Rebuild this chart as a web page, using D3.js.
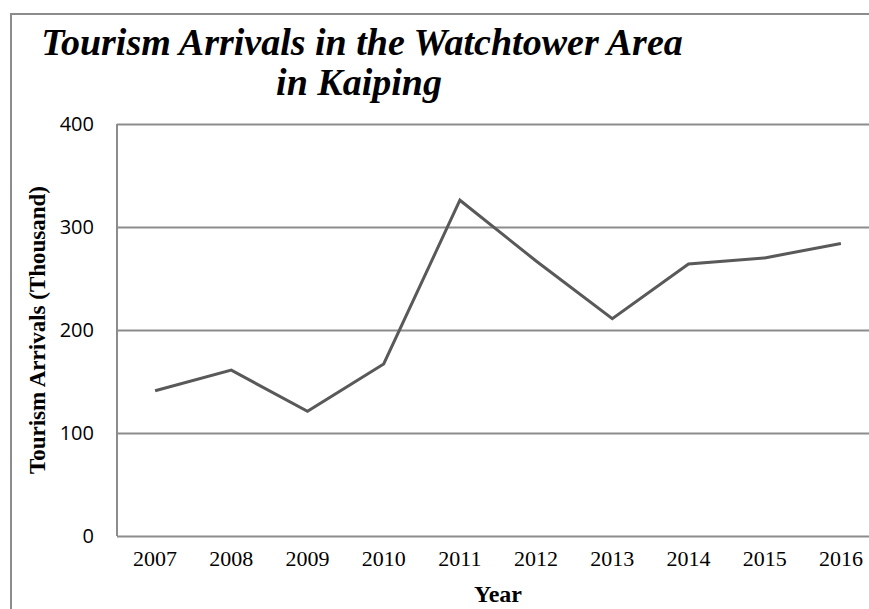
<!DOCTYPE html>
<html>
<head>
<meta charset="utf-8">
<script src="https://cdn.jsdelivr.net/npm/d3@7"></script>
<style>
  body { margin: 0; background: #fff; }
  svg { display: block; }
</style>
</head>
<body>
<div id="chart"></div>
<script>
const years = ["2007", "2008", "2009", "2010", "2011", "2012", "2013", "2014", "2015", "2016"];
const arrivals = [141, 161, 121, 167, 326, 267, 211, 264, 270, 284];
const yTicks = [0, 100, 200, 300, 400];
const titleLines = ["Tourism Arrivals in the Watchtower Area", "in Kaiping"];

const w = 869, h = 609;
const plotLeft = 117, plotRight = 879, plotTop = 124, plotBottom = 536;

const svg = d3.select("#chart").append("svg")
  .attr("width", w)
  .attr("height", h);

// outer frame
svg.append("rect")
  .attr("x", 11).attr("y", 14)
  .attr("width", 900).attr("height", 700)
  .attr("fill", "none")
  .attr("stroke", "#8c8c8c")
  .attr("stroke-width", 2);

const x = d3.scaleBand().domain(years).range([plotLeft, plotRight]);
const y = d3.scaleLinear().domain([0, 400]).range([plotBottom, plotTop]);

// gridlines
const yAxis = d3.axisLeft(y).tickValues(yTicks).tickSize(-(plotRight - plotLeft)).tickPadding(23);
const gy = svg.append("g")
  .attr("transform", "translate(" + plotLeft + ",0)")
  .call(yAxis);
gy.select(".domain").remove();
gy.selectAll(".tick line").attr("stroke", "#8c8c8c").attr("stroke-width", 2);
gy.selectAll(".tick text")
  .attr("font-family", "'Open Sans', sans-serif")
  .attr("font-size", 20)
  .attr("fill", "#000");

// left axis line
svg.append("line")
  .attr("x1", plotLeft).attr("x2", plotLeft)
  .attr("y1", plotTop).attr("y2", plotBottom)
  .attr("stroke", "#8c8c8c").attr("stroke-width", 2);

const xAxis = d3.axisBottom(x).tickSize(0).tickPadding(14);
const gx = svg.append("g")
  .attr("transform", "translate(0," + plotBottom + ")")
  .call(xAxis);
gx.select(".domain").remove();
gx.selectAll(".tick text")
  .attr("font-family", "'Liberation Serif', 'Times New Roman', serif")
  .attr("font-size", 22)
  .attr("fill", "#000");

// data line
const line = d3.line()
  .x((d, i) => x(years[i]) + x.bandwidth() / 2)
  .y(d => y(d));
svg.append("path")
  .datum(arrivals)
  .attr("d", line)
  .attr("fill", "none")
  .attr("stroke", "#595959")
  .attr("stroke-width", 3);

// title
const title = svg.append("text")
  .attr("text-anchor", "middle")
  .attr("font-family", "'Liberation Serif', 'Times New Roman', serif")
  .attr("font-weight", "bold")
  .attr("font-style", "italic")
  .attr("font-size", 38)
  .attr("fill", "#000");
title.append("tspan").attr("x", 362).attr("y", 55).text(titleLines[0]);
title.append("tspan").attr("x", 359).attr("y", 95).text(titleLines[1]);

// axis titles
svg.append("text")
  .attr("x", (plotLeft + plotRight) / 2).attr("y", 602)
  .attr("text-anchor", "middle")
  .attr("font-family", "'Liberation Serif', 'Times New Roman', serif")
  .attr("font-weight", "bold")
  .attr("font-size", 24)
  .text("Year");

svg.append("text")
  .attr("transform", "translate(45," + (plotTop + plotBottom) / 2 + ") rotate(-90)")
  .attr("text-anchor", "middle")
  .attr("font-family", "'Liberation Serif', 'Times New Roman', serif")
  .attr("font-weight", "bold")
  .attr("font-size", 23)
  .text("Tourism Arrivals (Thousand)");
</script>
</body>
</html>
